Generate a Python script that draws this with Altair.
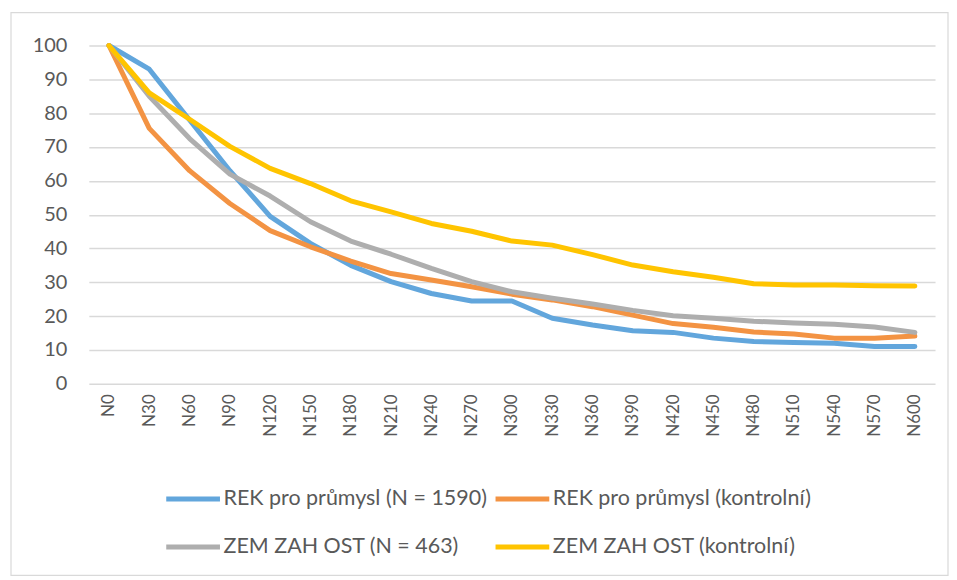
import altair as alt
import pandas as pd

categories = ["N0", "N30", "N60", "N90", "N120", "N150", "N180", "N210", "N240", "N270",
              "N300", "N330", "N360", "N390", "N420", "N450", "N480", "N510", "N540", "N570", "N600"]

series_names = ["REK pro průmysl (N = 1590)", "REK pro průmysl (kontrolní)",
                "ZEM ZAH OST (N = 463)", "ZEM ZAH OST (kontrolní)"]

rek_1590 = [100, 93, 78, 63, 49.5, 41.5, 35, 30.2, 26.7, 24.5, 24.5, 19.4, 17.4, 15.7, 15.2,
            13.5, 12.5, 12.2, 12, 11, 11]
rek_kontrolni = [100, 75.5, 63, 53.3, 45.3, 40.5, 36.3, 32.6, 30.7, 28.7, 26.5, 24.8, 22.8, 20.3,
                 17.8, 16.7, 15.3, 14.7, 13.5, 13.5, 14.1]
zem_463 = [100, 85, 72.5, 62, 55.5, 47.9, 42.2, 38.3, 34.1, 30.2, 27.2, 25.3, 23.6, 21.7, 20.1,
           19.4, 18.5, 18.0, 17.6, 16.8, 15.2]
zem_kontrolni = [100, 86, 78.2, 70.2, 63.7, 59.2, 54.1, 50.8, 47.4, 45.1, 42.2, 41, 38.2, 35.1,
                 33.1, 31.5, 29.6, 29.2, 29.2, 29, 28.9]

colors = ["#62A6DC", "#F39343", "#AEAEAE", "#FFC400"]

rows = []
for name, vals in zip(series_names, [rek_1590, rek_kontrolni, zem_463, zem_kontrolni]):
    for c, v in zip(categories, vals):
        rows.append({"kat": c, "hodnota": v, "serie": name})
df = pd.DataFrame(rows)

FONT = "Lato"
TXT = "#595959"

border = alt.Chart(pd.DataFrame({"a": [0]})).mark_rect(
    fill="white", fillOpacity=0, stroke="#D9D9D9", strokeWidth=1.2, clip=False
).encode(
    x=alt.value(-78), x2=alt.value(861), y=alt.value(-33), y2=alt.value(531)
)

lines = alt.Chart(df).mark_line(strokeWidth=5, strokeCap="round", strokeJoin="round").encode(
    x=alt.X("kat:N", sort=categories,
            scale=alt.Scale(type="point", padding=0.5),
            axis=alt.Axis(title=None, labelAngle=270, labelFontSize=17, labelFont=FONT,
                          labelColor=TXT, ticks=False, domain=False, grid=False,
                          labelPadding=10)),
    y=alt.Y("hodnota:Q", scale=alt.Scale(domain=[0, 100], nice=False),
            axis=alt.Axis(title=None, values=list(range(0, 101, 10)), labelFontSize=20,
                          labelFont=FONT, labelColor=TXT, ticks=False, domain=False,
                          gridColor="#D9D9D9", gridWidth=1.5, labelPadding=22)),
    color=alt.Color("serie:N", sort=series_names,
                    scale=alt.Scale(domain=series_names, range=colors),
                    legend=alt.Legend(title=None, orient="none", legendX=75, legendY=425,
                                      direction="horizontal",
                                      columns=2, symbolType="stroke", symbolStrokeWidth=5,
                                      symbolSize=2900, labelFontSize=21.5, labelFont=FONT,
                                      labelColor=TXT, labelOffset=1, columnPadding=-3,
                                      rowPadding=8, labelLimit=400)),
    order=alt.Order("serie_idx:Q")
).transform_calculate(
    serie_idx="indexof(" + str(series_names) + ", datum.serie)"
)

chart = alt.layer(border, lines).properties(
    width=848, height=339,
    padding={"left": 81, "top": 37, "right": 14, "bottom": 193},
    autosize=alt.AutoSizeParams(type="none")
).configure_view(stroke=None)

chart.save("out.html", embed_options={"renderer": "svg", "actions": False})
